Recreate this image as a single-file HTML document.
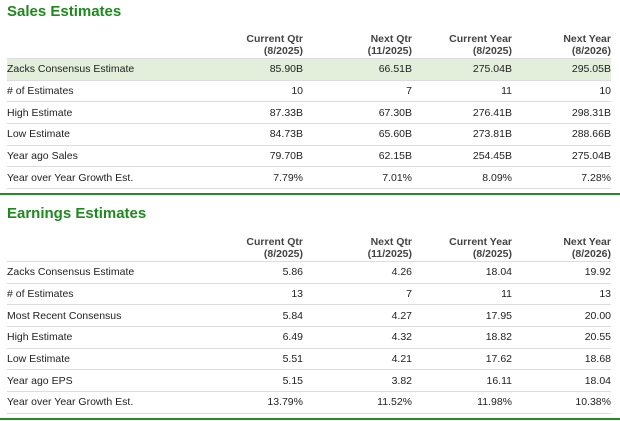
<!DOCTYPE html>
<html><head><meta charset="utf-8"><style>
body{margin:0;width:620px;height:421px;background:#fff;font-family:"Liberation Sans",Arial,sans-serif;color:#222;position:relative;overflow:hidden}
.t{position:absolute;left:7px;font-size:15px;font-weight:bold;color:#1d8a1d}
table{position:absolute;left:7px;width:604px;border-collapse:collapse;font-size:10.5px}
td,th{padding:0;height:20.7px;border-bottom:1px solid #ddd;text-align:right}
td:first-child{text-align:left;width:200px}
th{font-weight:bold;color:#444;line-height:12px;height:30px;vertical-align:bottom;padding-bottom:1px}
td:nth-child(2),th:nth-child(2){width:96px}
td:nth-child(3),th:nth-child(3){width:109px}
td:nth-child(4),th:nth-child(4){width:100px}
tr.hl td{background:#e3eedb}
.rule{position:absolute;left:0;width:620px;height:2px;background:#2a8a2a}
</style></head><body>
<div class="t" style="top:3px">Sales Estimates</div>
<table style="top:27px">
<tr><th></th><th>Current Qtr<br>(8/2025)</th><th>Next Qtr<br>(11/2025)</th><th>Current Year<br>(8/2025)</th><th>Next Year<br>(8/2026)</th></tr>
<tr class="hl"><td>Zacks Consensus Estimate</td><td>85.90B</td><td>66.51B</td><td>275.04B</td><td>295.05B</td></tr>
<tr><td># of Estimates</td><td>10</td><td>7</td><td>11</td><td>10</td></tr>
<tr><td>High Estimate</td><td>87.33B</td><td>67.30B</td><td>276.41B</td><td>298.31B</td></tr>
<tr><td>Low Estimate</td><td>84.73B</td><td>65.60B</td><td>273.81B</td><td>288.66B</td></tr>
<tr><td>Year ago Sales</td><td>79.70B</td><td>62.15B</td><td>254.45B</td><td>275.04B</td></tr>
<tr><td>Year over Year Growth Est.</td><td>7.79%</td><td>7.01%</td><td>8.09%</td><td>7.28%</td></tr>
</table>
<div class="rule" style="top:193px"></div>
<div class="t" style="top:205px">Earnings Estimates</div>
<table style="top:230px">
<tr><th></th><th>Current Qtr<br>(8/2025)</th><th>Next Qtr<br>(11/2025)</th><th>Current Year<br>(8/2025)</th><th>Next Year<br>(8/2026)</th></tr>
<tr><td>Zacks Consensus Estimate</td><td>5.86</td><td>4.26</td><td>18.04</td><td>19.92</td></tr>
<tr><td># of Estimates</td><td>13</td><td>7</td><td>11</td><td>13</td></tr>
<tr><td>Most Recent Consensus</td><td>5.84</td><td>4.27</td><td>17.95</td><td>20.00</td></tr>
<tr><td>High Estimate</td><td>6.49</td><td>4.32</td><td>18.82</td><td>20.55</td></tr>
<tr><td>Low Estimate</td><td>5.51</td><td>4.21</td><td>17.62</td><td>18.68</td></tr>
<tr><td>Year ago EPS</td><td>5.15</td><td>3.82</td><td>16.11</td><td>18.04</td></tr>
<tr><td>Year over Year Growth Est.</td><td>13.79%</td><td>11.52%</td><td>11.98%</td><td>10.38%</td></tr>
</table>
<div class="rule" style="top:418px"></div>
</body></html>
